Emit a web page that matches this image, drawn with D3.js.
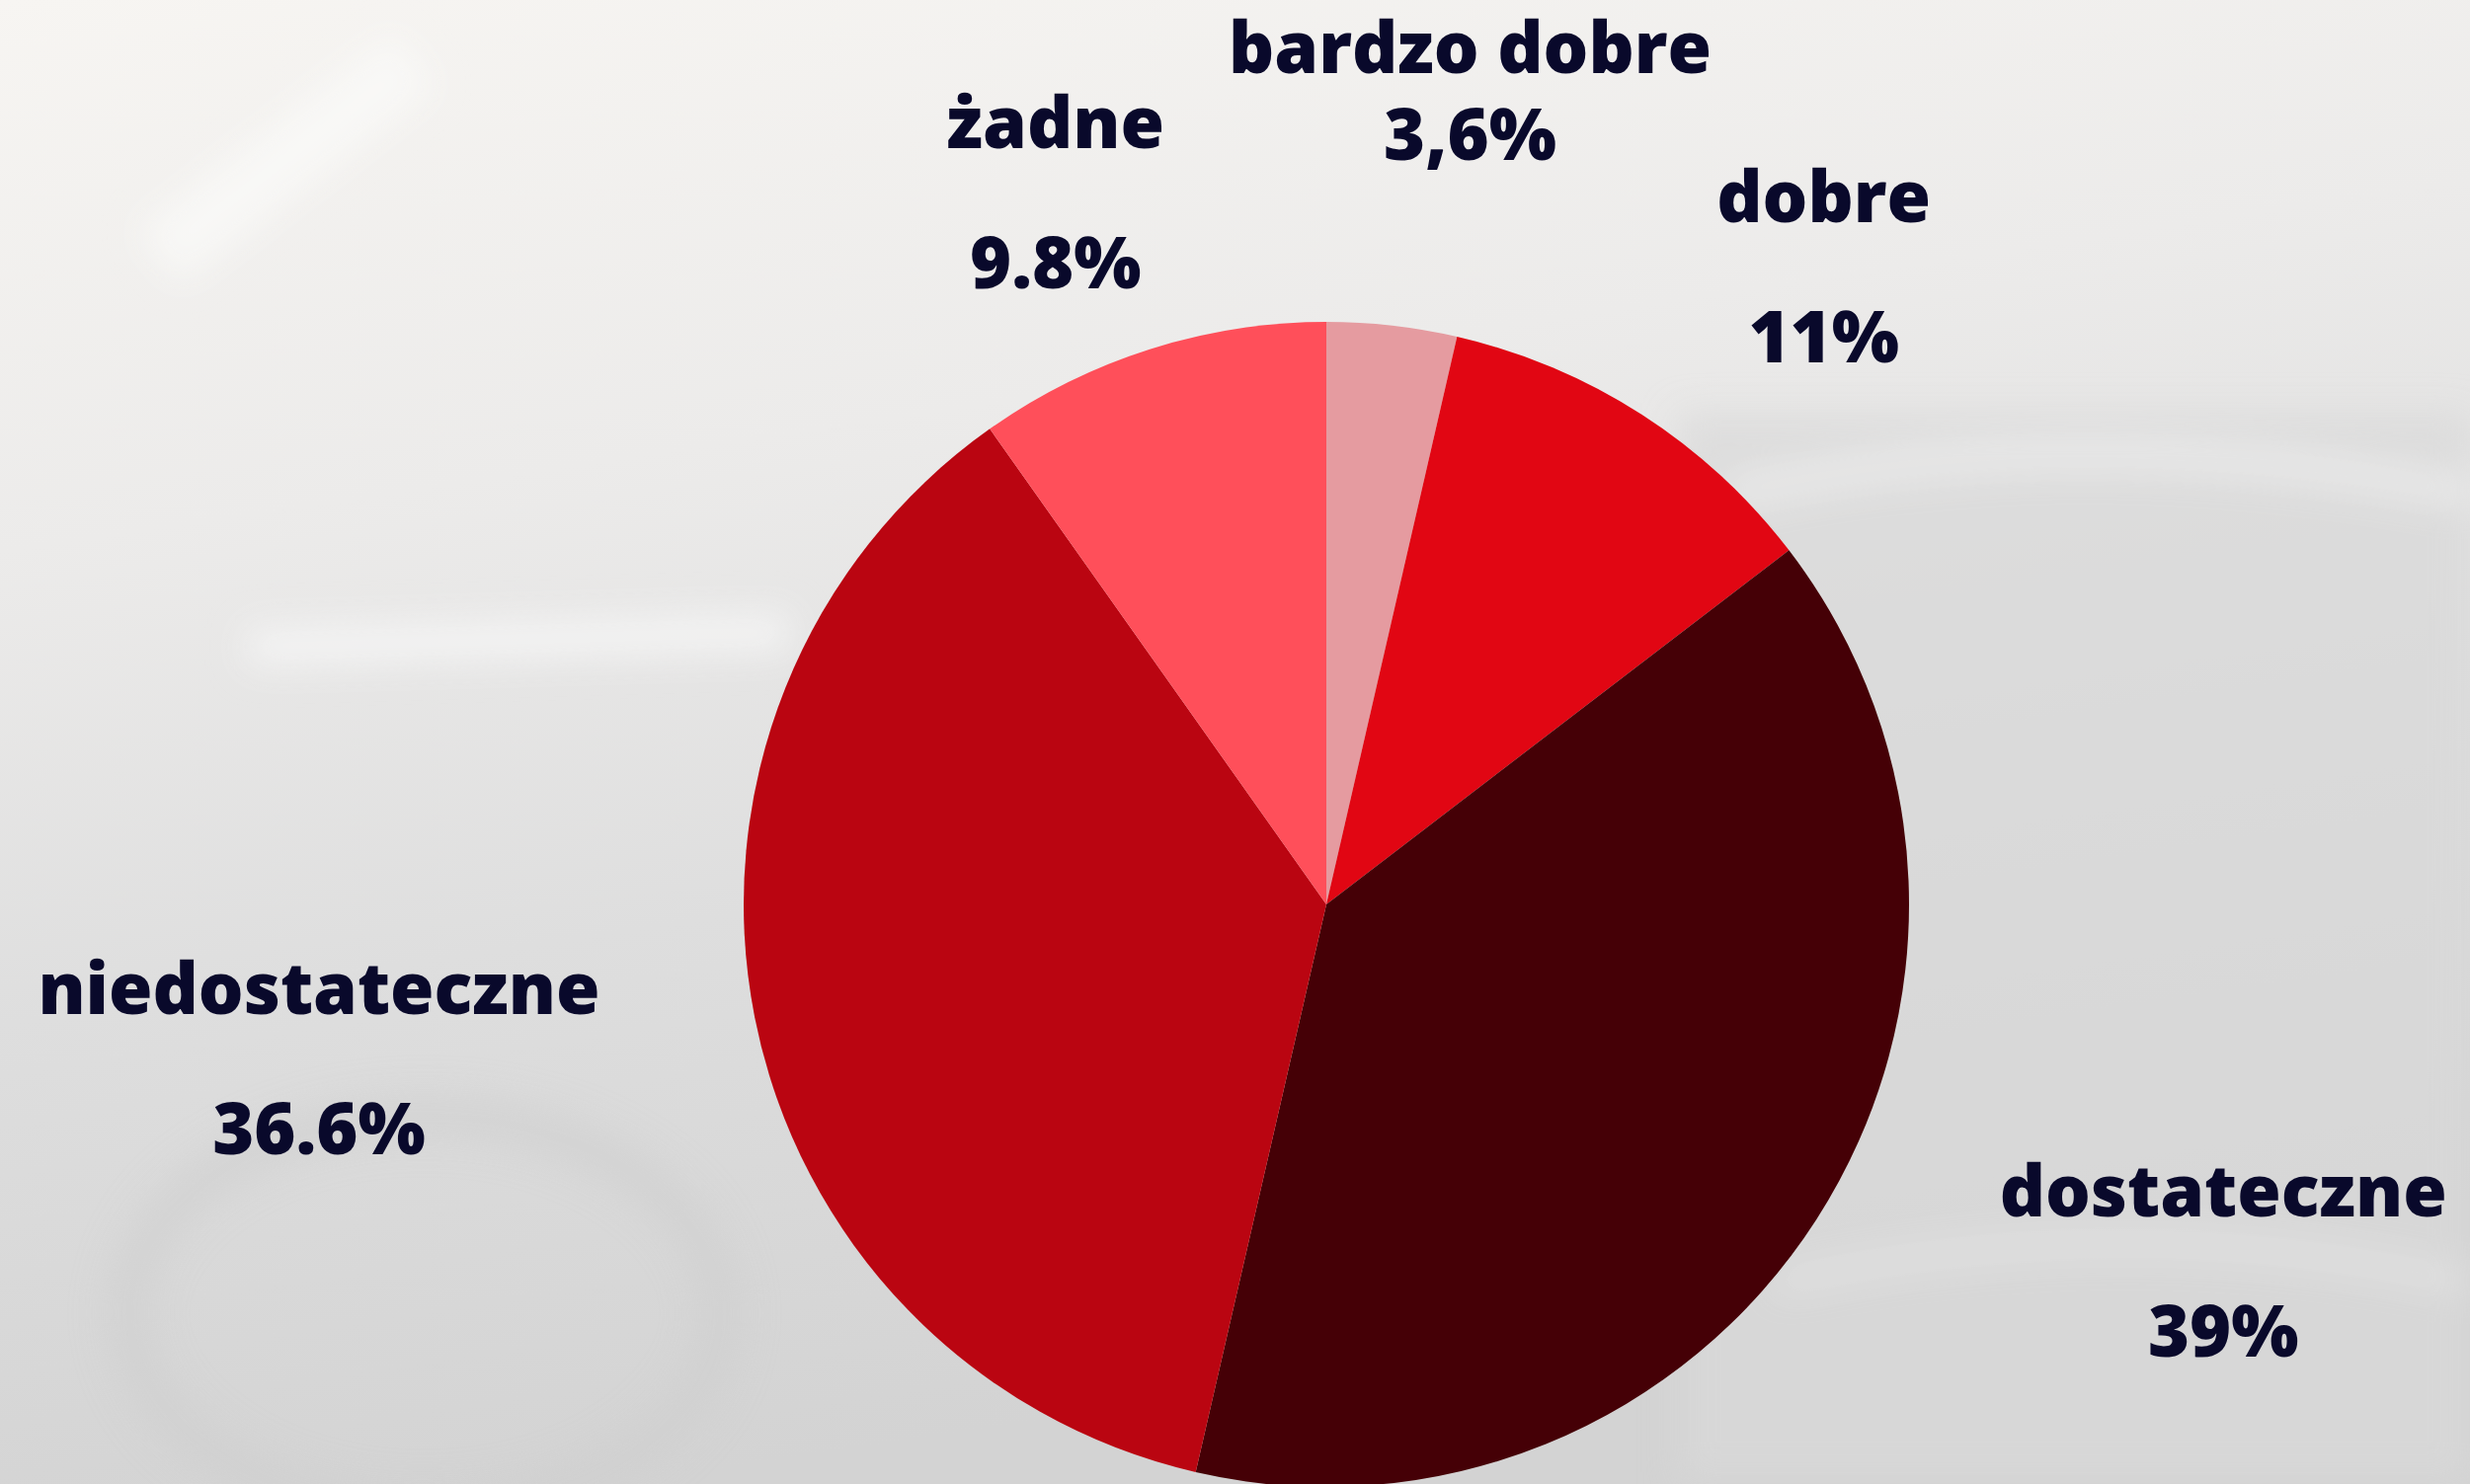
<!DOCTYPE html>
<html>
<head>
<meta charset="utf-8">
<script src="https://cdn.jsdelivr.net/npm/d3@7"></script>
<style>
  html, body { margin: 0; padding: 0; overflow: hidden; }
  svg { display: block; }
</style>
</head>
<body>
<svg id="chart"></svg>
<script>
// data (share of answers, %)
const categories = ["bardzo dobre", "dobre", "dostateczne", "niedostateczne", "żadne"];
const values = [3.6, 11, 39, 36.6, 9.8];
const valueLabels = ["3,6%", "11%", "39%", "36.6%", "9.8%"];
const colors = ["#e59ba0", "#e10613", "#450006", "#ba0511", "#ff4f5a"];

// where each label sits: angle (deg from 12 o'clock) and distance in radii
const labelAngle = [9.8, 36.1, 109.2, 263.8, 340.3];
const labelDist = [1.449, 1.449, 1.630, 1.739, 1.379];
const labelGap = [88, 142, 142, 142, 142];

const W = 2501, H = 1503;
const cx = 1343, cy = 916, radius = 590;

const svg = d3.select("#chart").attr("width", W).attr("height", H);

// soft blurred photo-like backdrop
const defs = svg.append("defs");
const bg = defs.append("linearGradient").attr("id", "bg")
    .attr("x1", 0).attr("y1", 0).attr("x2", 0.25).attr("y2", 1);
bg.append("stop").attr("offset", "0%").attr("stop-color", "#f7f5f2");
bg.append("stop").attr("offset", "35%").attr("stop-color", "#ecebea");
bg.append("stop").attr("offset", "65%").attr("stop-color", "#dedede");
bg.append("stop").attr("offset", "100%").attr("stop-color", "#d3d3d3");
defs.append("filter").attr("id", "blur")
    .attr("x", "-50%").attr("y", "-50%").attr("width", "200%").attr("height", "200%")
    .append("feGaussianBlur").attr("stdDeviation", 18);

svg.append("rect").attr("width", W).attr("height", H).attr("fill", "url(#bg)");

const deco = svg.append("g").attr("filter", "url(#blur)");
deco.append("rect").attr("x", 1700).attr("y", 420).attr("width", 801).attr("height", 1083)
    .attr("fill", "#d8d8d8").attr("opacity", 0.7);
deco.append("path").attr("d", "M1750,500 Q2100,420 2501,500")
    .attr("stroke", "#f2f2f2").attr("stroke-width", 22).attr("fill", "none").attr("opacity", 0.8);
deco.append("path").attr("d", "M250,655 L800,640")
    .attr("stroke", "#f6f6f6").attr("stroke-width", 40).attr("fill", "none").attr("opacity", 0.8);
deco.append("path").attr("d", "M160,260 L420,60")
    .attr("stroke", "#fbfbfa").attr("stroke-width", 70).attr("fill", "none").attr("opacity", 0.7);
deco.append("ellipse").attr("cx", 430).attr("cy", 1330).attr("rx", 300).attr("ry", 200)
    .attr("fill", "none").attr("stroke", "#cfcfcf").attr("stroke-width", 40).attr("opacity", 0.6);
deco.append("path").attr("d", "M1800,1300 Q2150,1220 2501,1300")
    .attr("stroke", "#ececec").attr("stroke-width", 14).attr("fill", "none").attr("opacity", 0.8);

const pie = d3.pie().sort(null).value(d => d.value);
const arc = d3.arc().innerRadius(0).outerRadius(radius);
const color = d3.scaleOrdinal().domain(categories).range(colors);

const rows = categories.map((c, i) => ({ id: c, value: values[i], label: valueLabels[i] }));
const arcs = pie(rows);

const g = svg.append("g").attr("transform", `translate(${cx},${cy})`);

g.selectAll("path.slice")
    .data(arcs)
    .enter().append("path")
    .attr("class", "slice")
    .attr("fill", d => color(d.data.id))
    .attr("d", arc);

const labels = g.selectAll("g.label")
    .data(arcs)
    .enter().append("g")
    .attr("class", "label")
    .attr("transform", (d, i) => {
        const a = labelAngle[i] * Math.PI / 180;
        const r = labelDist[i] * radius;
        return `translate(${r * Math.sin(a)},${-r * Math.cos(a)})`;
    })
    .attr("text-anchor", "middle")
    .style("font-family", "'Open Sans', sans-serif")
    .style("font-weight", 800)
    .style("font-size", "72px")
    .attr("fill", "#09092b");

labels.append("text")
    .attr("y", 0)
    .text(d => d.data.id);

labels.append("text")
    .attr("y", (d, i) => labelGap[i])
    .text(d => d.data.label);
</script>
</body>
</html>
